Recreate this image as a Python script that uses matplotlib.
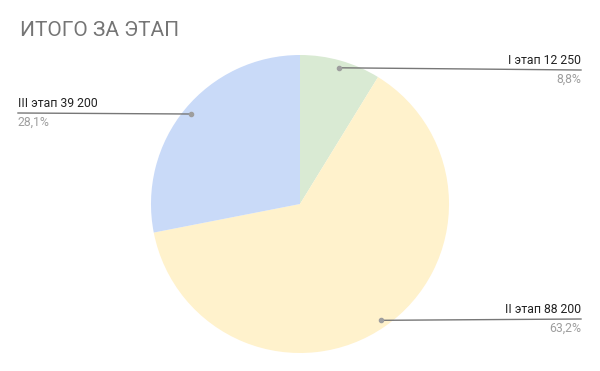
import numpy as np
import matplotlib
matplotlib.use('Agg')
import matplotlib.pyplot as plt

# data
labels = ['I этап', 'II этап', 'III этап']
values = [12250, 88200, 39200]
pct_labels = ['8,8%', '63,2%', '28,1%']
colors = ['#d9ead3', '#fff2cc', '#c9daf8']

W, H = 600, 371
plt.rcParams['font.family'] = ['Roboto', 'DejaVu Sans']

fig = plt.figure(figsize=(6, 3.71), dpi=100)
ax = fig.add_axes([0, 0, 1, 1])

cx, cy, r = 300, 204, 149
# inverted y axis: counterclock here reads clockwise on screen, -90 is the top
wedges, _ = ax.pie(values, colors=colors, startangle=-90, counterclock=True,
                   center=(cx, cy), radius=r, frame=True,
                   wedgeprops=dict(linewidth=0))
ax.set_xlim(0, W)
ax.set_ylim(H, 0)
ax.set_aspect('equal')
ax.axis('off')

def fmt(v):
    return f'{v:,}'.replace(',', ' ')

# label layout: (line y, line end x, alignment)
layout = [(70, 581, 'right'), (319, 581, 'right'), (113, 18, 'left')]

for w, lab, v, pct, (ly, lx, ha) in zip(wedges, labels, values, pct_labels, layout):
    mid = np.deg2rad((w.theta1 + w.theta2) / 2)
    px = cx + 0.95 * r * np.cos(mid)
    py = cy + 0.95 * r * np.sin(mid)
    ax.plot([px], [py], 'o', color='#9e9e9e', markersize=3, zorder=5)
    ax.plot([px, lx], [py, ly], color='#777777', linewidth=1, zorder=4)
    ax.text(lx, ly - 3, f'{lab} {fmt(v)}', ha=ha, va='bottom', fontsize=8.8, color='#222222')
    ax.text(lx, ly + 3, pct, ha=ha, va='top', fontsize=8.8, color='#9e9e9e')

fig.text(20 / W, 1 - 31 / H, 'ИТОГО ЗА ЭТАП', ha='left', va='center', fontsize=15, color='#757575')

plt.savefig('out.png', dpi=100)
